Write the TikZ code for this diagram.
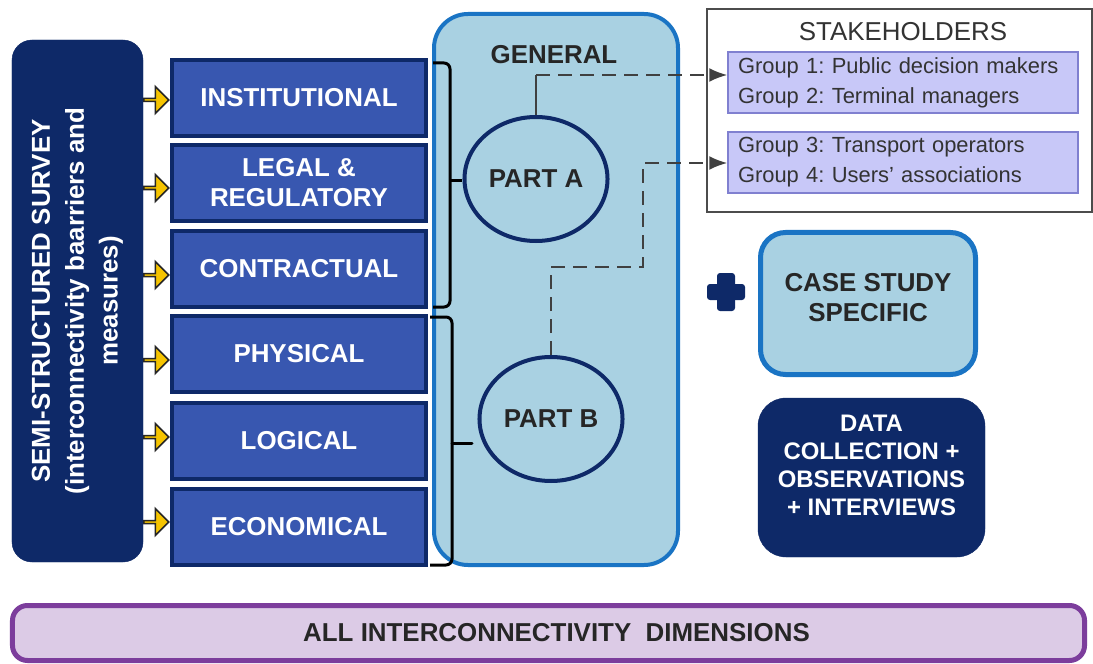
\documentclass[tikz,border=0pt]{standalone}
\usepackage{fontspec}
\setmainfont{Liberation Sans}
\usepackage{tikz}
\usetikzlibrary{shapes.geometric}
\usetikzlibrary{shapes.arrows}
\usetikzlibrary{arrows.meta}
\frenchspacing
\pgfdeclarelayer{background}
\pgfdeclarelayer{edgelayer}
\pgfdeclarelayer{nodelayer}
\pgfsetlayers{background,edgelayer,nodelayer,main}
\definecolor{navy}{RGB}{14,41,104}
\definecolor{catblue}{RGB}{56,87,176}
\definecolor{paleblue}{RGB}{169,209,226}
\definecolor{midblue}{RGB}{26,116,196}
\definecolor{groupfill}{RGB}{200,200,248}
\definecolor{groupedge}{RGB}{128,128,208}
\definecolor{lilac}{RGB}{220,203,230}
\definecolor{plum}{RGB}{124,61,156}
\definecolor{arrowyellow}{RGB}{246,196,0}
\tikzset{boldtext/.style={font=\fontsize{26}{30}\selectfont\bfseries}}
\tikzset{survey/.style={fill=navy, draw=navy, rounded corners=20bp, rotate=90, minimum width=522bp, minimum height=131bp, text=white, align=center, font=\fontsize{26}{34}\selectfont\bfseries}}
\tikzset{dimbox/.style={boldtext, fill=catblue, draw=navy, line width=4bp, minimum width=254bp, minimum height=76bp, text=white, align=center}}
\tikzset{feedarrow/.style={single arrow, draw=black!85, fill=arrowyellow, line width=1.5bp, minimum height=25bp, minimum width=27bp, single arrow head extend=6bp, inner sep=0pt}}
\tikzset{genbox/.style={fill=paleblue, draw=midblue, line width=4bp, rounded corners=34bp, minimum width=244bp, minimum height=551bp}}
\tikzset{partcircle/.style={boldtext, ellipse, fill=paleblue, draw=navy, line width=4bp, minimum width=138bp, minimum height=124bp, text=black!85}}
\tikzset{stakeframe/.style={draw=black!70, line width=1.5bp, fill=white, minimum width=385bp, minimum height=203bp}}
\tikzset{groupbox/.style={fill=groupfill, draw=groupedge, line width=1.5bp, text width=330bp, inner xsep=10bp, minimum height=61bp, align=left, font=\fontsize{22}{30}\selectfont, text=black!80}}
\tikzset{casebox/.style={boldtext, fill=paleblue, draw=midblue, line width=5bp, rounded corners=25bp, minimum width=215bp, minimum height=142bp, align=center, text=black!85}}
\tikzset{databox/.style={font=\fontsize{24}{28}\selectfont\bfseries, fill=navy, draw=navy, rounded corners=28bp, minimum width=227bp, minimum height=159bp, align=center, text=white}}
\tikzset{allbar/.style={boldtext, fill=lilac, draw=plum, line width=5bp, rounded corners=15bp, minimum width=1072bp, minimum height=55bp, text=black!85}}
\tikzset{bracket/.style={line width=3bp, rounded corners=6bp}}
\tikzset{link/.style={draw=black!75, line width=2bp, dash pattern=on 14bp off 8bp}}
\tikzset{arrowhead/.style={-{Latex[length=18bp,width=14bp]}}}

\begin{document}
\begin{tikzpicture}[x=1bp, y=-1bp]
	\useasboundingbox (0, 0) rectangle (1093, 664);
	\begin{pgfonlayer}{background}
		\fill [white] (0, 0) rectangle (1093, 664);
		\node [style=genbox] (general) at (556, 289.5) {};
		\node [style=stakeframe] (stake) at (899.5, 110.5) {};
	\end{pgfonlayer}
	\begin{pgfonlayer}{nodelayer}
		\node [style=survey] (survey) at (77.5, 301) {SEMI-STRUCTURED SURVEY\\(interconnectivity baarriers and\\measures)};
		\node [style=dimbox] (inst) at (299, 98) {INSTITUTIONAL};
		\node [style=dimbox] (legal) at (299, 183) {LEGAL \&\\REGULATORY};
		\node [style=dimbox] (contr) at (299, 269) {CONTRACTUAL};
		\node [style=dimbox] (phys) at (299, 354) {PHYSICAL};
		\node [style=dimbox] (logic) at (299, 441) {LOGICAL};
		\node [style=dimbox] (econ) at (299, 527) {ECONOMICAL};
		\node [style=feedarrow] (f1) at (155.5, 100) {};
		\node [style=feedarrow] (f2) at (155.5, 188) {};
		\node [style=feedarrow] (f3) at (155.5, 275) {};
		\node [style=feedarrow] (f4) at (155.5, 360) {};
		\node [style=feedarrow] (f5) at (155.5, 437) {};
		\node [style=feedarrow] (f6) at (155.5, 522) {};
		\node [style=boldtext, text=black!85] (gentitle) at (554, 55) {GENERAL};
		\node [style=partcircle] (partA) at (536, 179) {PART A};
		\node [style=partcircle] (partB) at (551, 419) {PART B};
		\node [text=black!80, font=\fontsize{26}{30}\selectfont] (staketitle) at (903, 32) {STAKEHOLDERS};
		\node [style=groupbox] (g1) at (903, 82.5) {Group 1: Public decision makers\\Group 2: Terminal managers};
		\node [style=groupbox] (g2) at (903, 162.5) {Group 3: Transport operators\\Group 4: Users' associations};
		\node [style=casebox] (case) at (868, 303.5) {CASE STUDY\\SPECIFIC\\[-17bp]};
		\node [style=databox] (data) at (871.5, 477.5) {DATA\\COLLECTION +\\OBSERVATIONS\\+ INTERVIEWS\\[-4bp]};
		\node [style=allbar] (all) at (548.5, 633) {\hspace{16bp}ALL INTERCONNECTIVITY\ \ DIMENSIONS};
		% plus sign
		\fill [navy, rounded corners=3bp] (707, 284) rectangle (745, 300);
		\fill [navy, rounded corners=3bp] (717, 273) rectangle (735, 311);
	\end{pgfonlayer}
	\begin{pgfonlayer}{edgelayer}
		\coordinate (ua) at (433, 63);
		\coordinate (ub) at (450, 63);
		\coordinate (uc) at (450, 307);
		\coordinate (ud) at (433, 307);
		\coordinate (um) at (450, 181);
		\coordinate (la) at (430, 317);
		\coordinate (lb) at (452, 317);
		\coordinate (lc) at (452, 565);
		\coordinate (ld) at (430, 565);
		\coordinate (lm) at (452, 443);
		\coordinate (lt) at (472, 443);
		\draw [style=bracket] (ua) -- (ub) -- (uc) -- (ud);
		\draw [style=bracket] (la) -- (lb) -- (lc) -- (ld);
		\draw [line width=3bp] (um) to (partA.west |- um);
		\draw [line width=3bp, line cap=round] (lm) to (lt);
		\coordinate (a1) at (536, 75);
		\coordinate (b1) at (551, 267);
		\coordinate (b2) at (643, 267);
		\coordinate (b3) at (643, 163);
		\draw [line width=2bp, draw=black!75] (partA) to (a1);
		\draw [style=link, style=arrowhead] (a1) to (g1.west |- a1);
		\draw [style=link, style=arrowhead] (partB) -- (b1) -- (b2) -- (b3) -- (g2.west |- b3);
	\end{pgfonlayer}
\end{tikzpicture}
\end{document}
